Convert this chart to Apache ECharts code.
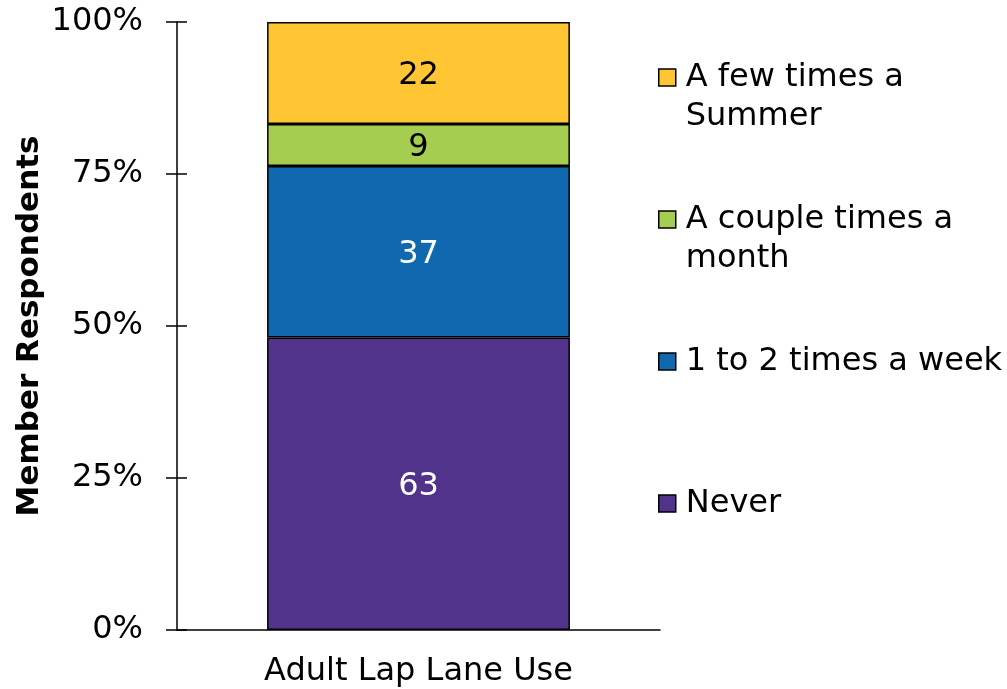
<!DOCTYPE html>
<html>
<head>
<meta charset="utf-8">
<script src="https://cdn.jsdelivr.net/npm/echarts@6/dist/echarts.min.js"></script>
<style>
html,body{margin:0;padding:0;background:#fff;}
#chart{width:1007px;height:689px;}
</style>
</head>
<body>
<div id="chart"></div>
<script>
const categories = ['Adult Lap Lane Use'];
const seriesNames = ['Never', '1 to 2 times a week', 'A couple times a month', 'A few times a Summer'];
const never = [63];
const weekly = [37];
const monthly = [9];
const summer = [22];
const yTickLabels = ['0%', '25%', '50%', '75%', '100%'];

const legendText = {
  'A few times a Summer': '\nA few times a\nSummer',
  'A couple times a month': '\nA couple times a\nmonth',
  '1 to 2 times a week': '\n1 to 2 times a week\n ',
  'Never': '\nNever\n '
};

const raw = [never, weekly, monthly, summer];
const colors = ['#51338B', '#1069AF', '#A5CD50', '#FFC533'];
const labelColors = ['#fff', '#fff', '#000', '#000'];
const totals = categories.map((c, i) => raw.reduce((s, arr) => s + arr[i], 0));
const FONT = 'DejaVu Sans, Verdana, sans-serif';

const chart = echarts.init(document.getElementById('chart'));
const series = raw.map((arr, k) => ({
  name: seriesNames[k],
  type: 'bar',
  stack: 'total',
  barWidth: '62.7%',
  data: arr.map((v, i) => ({ value: v / totals[i] * 100, raw: v })),
  itemStyle: { color: colors[k], borderColor: '#000', borderWidth: 1.5 },
  label: {
    show: true,
    position: 'inside',
    color: labelColors[k],
    fontFamily: FONT,
    fontSize: 32,
    offset: [0, 3],
    formatter: p => String(p.data.raw)
  }
}));

chart.setOption({
  animation: false,
  backgroundColor: '#fff',
  grid: { left: 177, right: 347, top: 22, bottom: 59 },
  legend: {
    orient: 'vertical',
    left: 653,
    top: 14,
    itemWidth: 17,
    itemHeight: 17,
    itemGap: 25,
    icon: 'rect',
    data: seriesNames.slice().reverse(),
    formatter: n => legendText[n],
    itemStyle: { borderColor: '#000', borderWidth: 1.5 },
    textStyle: { fontFamily: FONT, fontSize: 32, color: '#000', lineHeight: 39, padding: [0, 0, 0, 5] }
  },
  xAxis: {
    type: 'category',
    data: categories,
    axisLine: { lineStyle: { color: '#000', width: 1.5 } },
    axisTick: { show: false },
    axisLabel: { fontFamily: FONT, fontSize: 32, color: '#000', margin: 26 }
  },
  yAxis: [{
    type: 'value',
    min: 0, max: 100, interval: 25,
    name: 'Member Respondents',
    nameLocation: 'middle',
    nameGap: 132,
    nameRotate: 90,
    nameTextStyle: { fontFamily: FONT, fontSize: 31, fontWeight: 'bold', color: '#000' },
    axisLine: { show: true, lineStyle: { color: '#000', width: 1.5 } },
    axisTick: { show: true, inside: false, length: 11, lineStyle: { color: '#000', width: 1.5 } },
    splitLine: { show: false },
    axisLabel: { fontFamily: FONT, fontSize: 32, color: '#000', margin: 34,
      formatter: v => yTickLabels[Math.round(v / 25)] }
  }, {
    type: 'value',
    position: 'left',
    min: 0, max: 100, interval: 25,
    axisLine: { show: false },
    axisTick: { show: true, inside: true, length: 10, lineStyle: { color: '#000', width: 1.5 } },
    splitLine: { show: false },
    axisLabel: { show: false }
  }],
  series: series
});
</script>
</body>
</html>
